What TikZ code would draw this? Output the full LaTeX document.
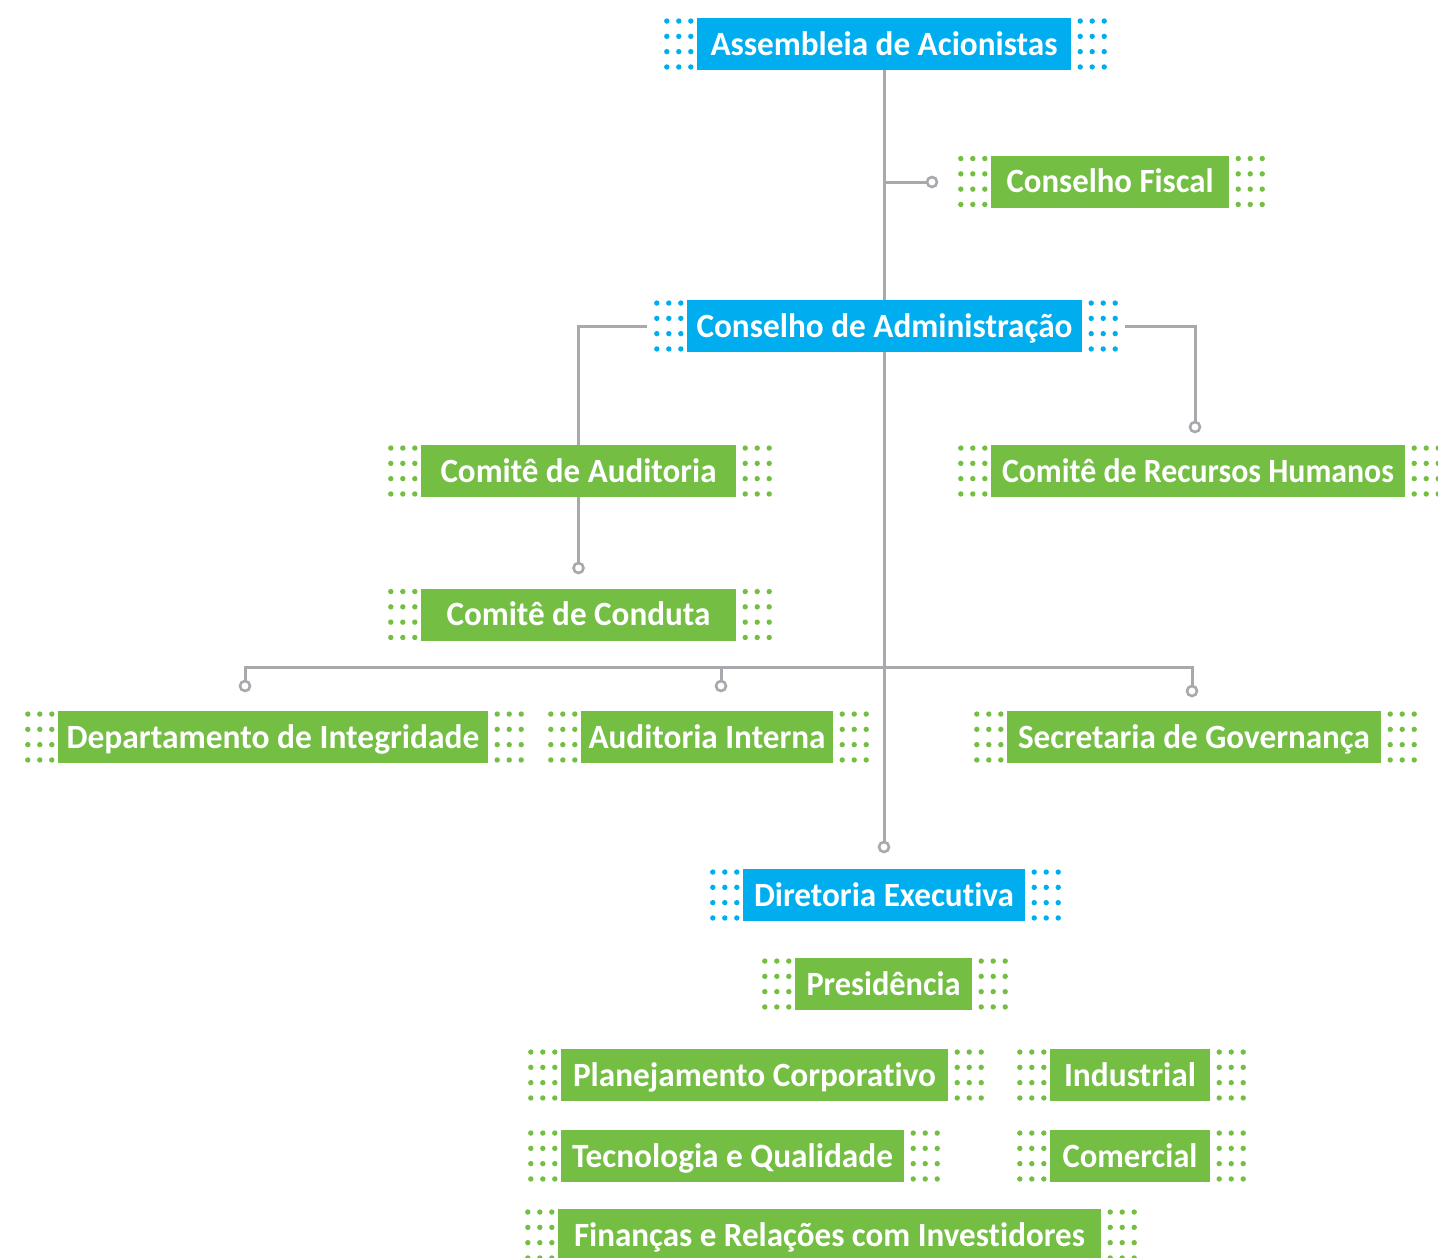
\documentclass[tikz,border=0pt]{standalone}
\usepackage{fontspec}
\usepackage{graphicx}
\setmainfont{Carlito}[RawFeature={-liga;-clig;-dlig}]
\definecolor{cblue}{HTML}{00AEEF}
\definecolor{cgreen}{HTML}{74BE44}
\definecolor{cgray}{HTML}{A7A9AC}
\newlength\fitlen
\newcommand\fitw[2]{\settowidth\fitlen{#2}\pgfmathsetmacro\fitfac{#1/\fitlen}\scalebox{\fitfac}[1]{#2}}
\newcommand\dotgrid[2]{%
  \foreach \i in {0,1,2}{\foreach \j in {-1.5,-0.5,0.5,1.5}{%
    \fill[#2] ([xshift={-(6+12*\i)*1pt},yshift={15.3*\j*1pt}]#1.west) circle[radius=2.7pt];
    \fill[#2] ([xshift={(9+12*\i)*1pt},yshift={15.3*\j*1pt}]#1.east) circle[radius=2.7pt];
  }}}
\tikzset{
  orgbox/.style={rectangle, inner sep=0pt, minimum height=52pt, text=white,
    font=\bfseries\fontsize{34}{40}\selectfont, text height=22pt, text depth=0pt, align=center},
  bluebox/.style={orgbox, fill=cblue},
  greenbox/.style={orgbox, fill=cgreen},
  conn/.style={draw=cgray, line width=3pt},
  ring/.style={draw=cgray, fill=white, line width=2.6pt},
}
\begin{document}
\begin{tikzpicture}[x=1pt,y=-1pt]
\useasboundingbox (0,0) rectangle (1438,1258);
% nodes
\node[bluebox, minimum width=374pt] (asm) at (884,44) {\fitw{347pt}{Assembleia de Acionistas}};
\node[greenbox, minimum width=238pt] (fis) at (1110,181.5) {\fitw{207pt}{Conselho Fiscal}};
\node[bluebox, minimum width=395pt] (cad) at (884.5,326) {\fitw{376pt}{Conselho de Administração}};
\node[greenbox, minimum width=315pt] (cau) at (578.5,471) {\fitw{276pt}{Comitê de Auditoria}};
\node[greenbox, minimum width=414pt] (crh) at (1198,471) {\fitw{392pt}{Comitê de Recursos Humanos}};
\node[greenbox, minimum width=315pt] (ccd) at (578.5,614.5) {\fitw{264pt}{Comitê de Conduta}};
\node[greenbox, minimum width=430pt] (dep) at (273,737) {\fitw{413pt}{Departamento de Integridade}};
\node[greenbox, minimum width=252pt] (aud) at (707,737) {\fitw{237pt}{Auditoria Interna}};
\node[greenbox, minimum width=374pt] (sec) at (1194,737) {\fitw{352pt}{Secretaria de Governança}};
\node[bluebox, minimum width=282pt] (dir) at (884,895) {\fitw{260pt}{Diretoria Execut\kern0pt iva}};
\node[greenbox, minimum width=177pt] (pre) at (883.5,984) {\fitw{154pt}{Presidência}};
\node[greenbox, minimum width=387pt] (pla) at (754.5,1075) {\fitw{363pt}{Planejamento Corporat\kern0pt ivo}};
\node[greenbox, minimum width=160pt] (ind) at (1130,1075) {\fitw{132pt}{Industrial}};
\node[greenbox, minimum width=343pt] (tec) at (732.5,1156) {\fitw{321pt}{Tecnologia e Qualidade}};
\node[greenbox, minimum width=160pt] (com) at (1130,1156) {\fitw{135pt}{Comercial}};
\node[greenbox, minimum width=543pt] (fin) at (829.5,1235) {\fitw{511pt}{Finanças e Relações com Invest\kern0pt idores}};
% dots
\dotgrid{asm}{cblue}
\dotgrid{cad}{cblue}
\dotgrid{dir}{cblue}
\dotgrid{fis}{cgreen}
\dotgrid{cau}{cgreen}
\dotgrid{crh}{cgreen}
\dotgrid{ccd}{cgreen}
\dotgrid{dep}{cgreen}
\dotgrid{aud}{cgreen}
\dotgrid{sec}{cgreen}
\dotgrid{pre}{cgreen}
\dotgrid{pla}{cgreen}
\dotgrid{ind}{cgreen}
\dotgrid{tec}{cgreen}
\dotgrid{com}{cgreen}
\dotgrid{fin}{cgreen}
% connector coordinates
\coordinate (cfis) at (932,182);
\coordinate (cadL) at (647,326);
\coordinate (cadR) at (1125,326);
\coordinate (c1) at (578.5,568);
\coordinate (c2) at (1195,427);
\coordinate (c3) at (884,847);
\coordinate (hL) at (245,667);
\coordinate (hM) at (721,667);
\coordinate (hR) at (1192,667);
\coordinate (c4) at (245,686);
\coordinate (c5) at (721,686);
\coordinate (c6) at (1192,691);
% connectors
\draw[conn] (asm.south) -- (asm.south |- cad.north);
\draw[conn] (asm.south |- cfis) -- (cfis);
\draw[conn] (cadL) -- (cadL -| cau.north) -- (cau.north);
\draw[conn] (cau.south) -- (c1);
\draw[conn] (cadR) -- (cadR -| c2) -- (c2);
\draw[conn] (c3 |- cad.south) -- (c3);
\draw[conn] (c4) -- (hL) -- (hR) -- (c6);
\draw[conn] (hM) -- (c5);
% rings
\foreach \c in {cfis,c1,c2,c3,c4,c5,c6} \draw[ring] (\c) circle[radius=5pt];
\end{tikzpicture}
\end{document}
